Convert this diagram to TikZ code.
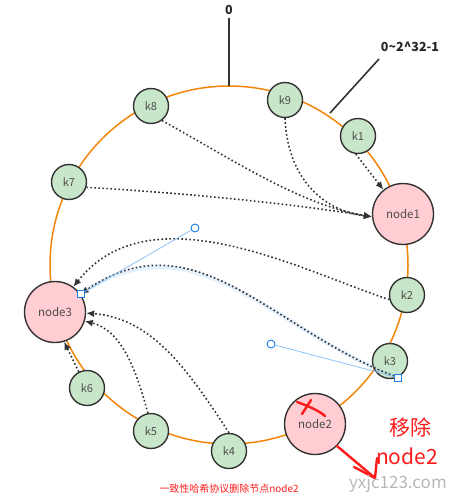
\documentclass[tikz,border=0pt]{standalone}
\usepackage{fontspec}
\setmainfont{Noto Sans CJK SC}
\usetikzlibrary{arrows.meta,calc}
\definecolor{ringc}{HTML}{F5850A}
\definecolor{keyfill}{HTML}{C8E6C9}
\definecolor{srvfill}{HTML}{FFCDD2}
\definecolor{edgec}{HTML}{333333}
\definecolor{markred}{HTML}{FF1A1A}
\definecolor{selblue}{HTML}{1A7FE8}
\definecolor{sellight}{HTML}{8EC2F7}
\tikzset{
  keyn/.style={circle,draw=edgec,line width=1.4pt,fill=keyfill,minimum size=35pt,
    inner sep=0pt,font=\fontsize{11}{12}\selectfont,text=black!70},
  srvn/.style={keyn,fill=srvfill,minimum size=61pt,font=\fontsize{11.5}{12}\selectfont},
  hop/.style={-{Latex[length=8pt,width=7pt]},draw=edgec,line width=1.6pt,
    dash pattern=on 1.6pt off 2.4pt},
  pointer/.style={draw=edgec,line width=1.6pt},
  toplab/.style={font=\bfseries\fontsize{12.5}{13}\selectfont,text=black!85},
  redmark/.style={draw=markred,line width=2.4pt,line cap=round},
  redtxt/.style={font=\fontsize{21}{22}\selectfont,text=markred,inner sep=0pt},
  glow/.style={draw=sellight,line width=4pt,opacity=0.25},
  handle/.style={draw=sellight,line width=0.8pt},
  hdot/.style={circle,draw=selblue,fill=white,line width=0.9pt,minimum size=8pt,inner sep=0pt},
  hsq/.style={rectangle,draw=selblue,fill=white,line width=0.9pt,minimum size=7pt,inner sep=0pt},
}
\begin{document}
\begin{tikzpicture}[x=1pt,y=-1pt]
  \useasboundingbox (0,0) rectangle (467,500);
  % --- the hash ring ---
  \draw[ringc,line width=1.5pt] (229,265) circle[radius=179pt];
  \coordinate (ringtop) at (229,86);
  \coordinate (ringne) at (330,113);
  \node[toplab] (zero) at (229,10) {0};
  \node[toplab] (range) at (410,47) {0\textasciitilde 2\textasciicircum 32-1};
  \draw[pointer] (zero.south) -- (ringtop);
  \draw[pointer] (379,59) -- (ringne);
  % --- keys and servers ---
  \node[keyn] (k8) at (151,106) {k8};
  \node[keyn] (k9) at (285,100) {k9};
  \node[keyn] (k1) at (358,136) {k1};
  \node[keyn] (k7) at (69,182) {k7};
  \node[keyn] (k2) at (407,295) {k2};
  \node[keyn] (k3) at (390,361) {k3};
  \node[keyn] (k6) at (87,388) {k6};
  \node[keyn] (k5) at (151,431) {k5};
  \node[keyn] (k4) at (229,451) {k4};
  \node[srvn] (node1) at (403,214) {node1};
  \node[srvn] (node3) at (55,312) {node3};
  \node[srvn] (node2) at (315,424) {node2};
  % --- keys owned by node1 ---
  \draw[hop] (k1.263) -- (node1.129);
  \draw[hop] (k9.south) .. controls (288,185) and (330,212) .. (node1.185);
  \draw[hop] (k8.-53) .. controls (230,158) and (300,205) .. (node1.185);
  \draw[hop] (k7.-17) .. controls (200,194) and (300,205) .. (node1.185);
  % --- keys moved to node3 ---
  \draw[hop] (k2.195) .. controls (300,270) and (150,190) .. (node3.54);
  \draw[glow] (k3.-65) .. controls (271,330) and (195,215) .. (node3.35);
  \draw[hop] (k3.-65) .. controls (271,330) and (195,215) .. (node3.35);
  \draw[hop] (k4.north) .. controls (185,365) and (150,318) .. (node3.-2);
  \draw[hop] (k5.100) .. controls (135,365) and (120,330) .. (node3.-17);
  \draw[hop] (k6.117) -- (node3.-73);
  % --- editor handles of the selected curve ---
  \node[hdot] (c1) at (195,228) {};
  \node[hdot] (c2) at (271,344) {};
  \draw[handle] (node3.35) -- (c1);
  \draw[handle] (k3.-65) -- (c2);
  \node[hsq] at (node3.35) {};
  \node[hsq] at (k3.-65) {};
  % --- removal of node2 ---
  \draw[redmark] (297,402) .. controls (308,406) and (318,410) .. (325,416);
  \draw[redmark] (302,414) -- (311,400);
  \coordinate (drop) at (375,478);
  \draw[redmark] (node2.-45) -- (drop);
  \draw[redmark] (354,467) -- (drop) -- (377,458);
  \node[redtxt] (rmtxt) at (410,427) {移除};
  \node[redtxt] (rmnode) at (407,456) {node2};
  \node[font=\fontsize{17}{18}\selectfont,text=black!28] (mark) at (398,484) {yxjc123.com};
  \node[font=\fontsize{10}{11}\selectfont,text=markred] (caption) at (229,489) {一致性哈希协议删除节点node2};
\end{tikzpicture}
\end{document}
